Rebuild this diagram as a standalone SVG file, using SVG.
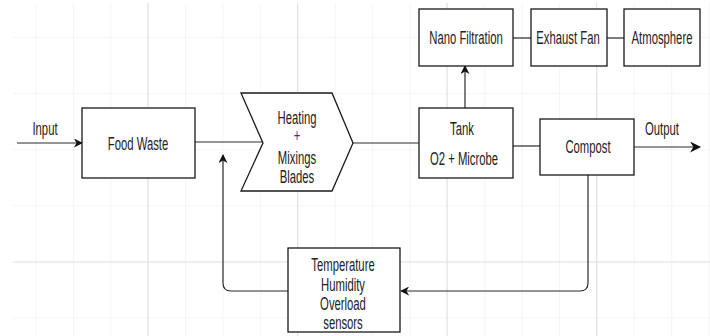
<svg xmlns="http://www.w3.org/2000/svg" width="710" height="336" viewBox="0 0 710 336">
<defs>
<pattern id="grid" x="35.5" y="37" width="37.4" height="56.1" patternUnits="userSpaceOnUse">
<path d="M0,0 V56.1 M0,0 H37.4" fill="none" stroke="#ebebeb" stroke-width="1"/>
</pattern>
<marker id="arr" viewBox="0 0 10 10" refX="9" refY="5" markerWidth="9" markerHeight="9" markerUnits="userSpaceOnUse" orient="auto">
<path d="M0,0 L10,5 L0,10 L3,5 Z" fill="#111"/>
</marker>
<marker id="arrB" viewBox="0 0 10 10" refX="9" refY="5" markerWidth="11" markerHeight="11" markerUnits="userSpaceOnUse" orient="auto">
<path d="M0,0 L10,5 L0,10 L3,5 Z" fill="#111"/>
</marker>
</defs>
<style>
.box{fill:#fff;stroke:#1a1a1a;stroke-width:1.3}
.ln{fill:none;stroke:#2a2a2a;stroke-width:1.2}
.t{font-family:"Liberation Sans",Arial,sans-serif;font-size:11.3px;fill:#222;text-anchor:middle}
.p{fill:#6a1a8a}
</style>
<rect x="0" y="0" width="710" height="336" fill="#fff"/>
<rect x="13" y="3" width="697" height="333" fill="url(#grid)"/>
<g fill="none" stroke="#e3e3e3" stroke-width="1.2">
<path d="M148,3 V336 M297.6,3 V336 M447,3 V336 M596.6,3 V336 M13,262 H710"/>
</g>

<g id="connectors">
<path class="ln" d="M17,143 H82" marker-end="url(#arr)"/>
<path class="ln" d="M195,142 H263"/>
<path class="ln" d="M353,143 H419"/>
<path class="ln" d="M513,146 H540"/>
<path class="ln" d="M465,108 V66" marker-end="url(#arr)"/>
<path class="ln" d="M513,38 H531"/>
<path class="ln" d="M607,38 H624"/>
<path class="ln" d="M634,147 H700" stroke-width="2.6" marker-end="url(#arrB)"/>
<path class="ln" d="M588,175 V283 Q588,291 580,291 H401" marker-end="url(#arr)"/>
<path class="ln" d="M288,291 H231 Q223,291 223,283 V155" marker-end="url(#arr)"/>
<text class="t" transform="translate(45,135) scale(1,1.55)">Input</text>
<text class="t" transform="translate(662,135) scale(1,1.55)">Output</text>
</g>

<g id="food-waste">
<rect class="box" x="82" y="108" width="113" height="70"/>
<text class="t" transform="translate(138,150) scale(1,1.55)">Food Waste</text>
</g>

<g id="heating">
<polygon class="box" points="241,93 332,93 353,143 332,191 241,191 263,143" stroke="#444"/>
<text class="t" transform="translate(297,124) scale(1,1.55)">Heating</text>
<text class="t p" transform="translate(297,142) scale(1,1.55)">+</text>
<text class="t" transform="translate(297,164) scale(1,1.55)">Mixings</text>
<text class="t" transform="translate(297,183) scale(1,1.55)">Blades</text>
</g>

<g id="tank">
<rect class="box" x="419" y="108" width="94" height="70"/>
<text class="t" transform="translate(462,135) scale(1,1.55)">Tank</text>
<text class="t" transform="translate(464,165) scale(1,1.55)">O2 + Microbe</text>
</g>

<g id="nano-filtration">
<rect class="box" x="419" y="9" width="94" height="57"/>
<text class="t" transform="translate(466,44) scale(1,1.55)">Nano Filtration</text>
</g>

<g id="exhaust-fan">
<rect class="box" x="531" y="9" width="76" height="57"/>
<text class="t" transform="translate(568,44) scale(1,1.55)">Exhaust Fan</text>
</g>

<g id="atmosphere">
<rect class="box" x="624" y="9" width="76" height="57"/>
<text class="t" transform="translate(662,44) scale(1,1.55)">Atmosphere</text>
</g>

<g id="compost">
<rect class="box" x="540" y="119" width="94" height="56"/>
<text class="t" transform="translate(588,153) scale(1,1.55)">Compost</text>
</g>

<g id="sensors">
<rect class="box" x="288" y="248" width="112" height="84"/>
<text class="t" transform="translate(343,271) scale(1,1.55)">Temperature</text>
<text class="t" transform="translate(343,291) scale(1,1.55)">Humidity</text>
<text class="t" transform="translate(343,310) scale(1,1.55)">Overload</text>
<text class="t" transform="translate(343,329) scale(1,1.55)">sensors</text>
</g>
</svg>
